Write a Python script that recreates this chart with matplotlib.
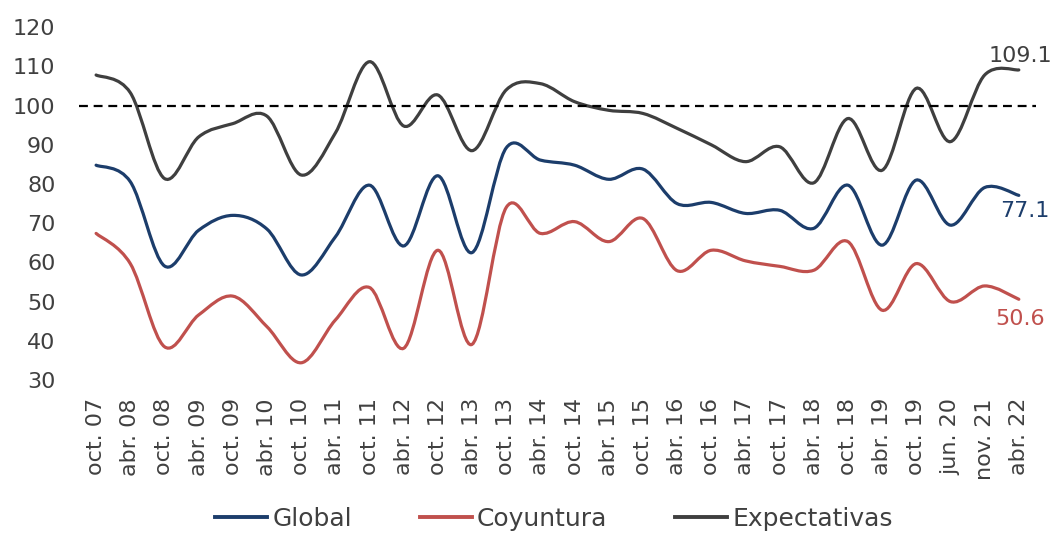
import numpy as np
import matplotlib
matplotlib.use("Agg")
from matplotlib import pyplot as plt
from matplotlib.path import Path
from matplotlib.patches import PathPatch
from matplotlib.lines import Line2D

periods = ["oct. 07", "abr. 08", "oct. 08", "abr. 09", "oct. 09", "abr. 10",
           "oct. 10", "abr. 11", "oct. 11", "abr. 12", "oct. 12", "abr. 13",
           "oct. 13", "abr. 14", "oct. 14", "abr. 15", "oct. 15", "abr. 16",
           "oct. 16", "abr. 17", "oct. 17", "abr. 18", "oct. 18", "abr. 19",
           "oct. 19", "jun. 20", "nov. 21", "abr. 22"]

global_idx = [84.8, 80.6, 59.1, 68.2, 72.0, 68.5, 56.8, 66.5, 79.7, 64.2,
              82.1, 62.5, 89.2, 86.1, 84.8, 81.2, 83.8, 75.0, 75.3, 72.5,
              73.3, 68.7, 79.7, 64.4, 81.0, 69.5, 79.1, 77.1]

coyuntura = [67.4, 59.7, 38.5, 46.6, 51.4, 43.6, 34.4, 45.3, 53.6, 38.1,
             63.1, 39.1, 74.0, 67.4, 70.4, 65.3, 71.2, 57.9, 63.1, 60.4,
             59.0, 58.0, 65.3, 47.8, 59.7, 50.0, 54.0, 50.6]

expectativas = [107.8, 103.3, 81.4, 92.0, 95.4, 97.3, 82.3, 93.0, 111.2, 94.8,
                102.7, 88.5, 104.0, 105.6, 101.0, 98.8, 98.0, 94.2, 90.0, 85.7,
                89.5, 80.3, 96.7, 83.5, 104.4, 90.8, 107.8, 109.1]

series = [("Global", global_idx, "#1c3d6b"),
          ("Coyuntura", coyuntura, "#c0504d"),
          ("Expectativas", expectativas, "#3f3f3f")]

TEXT = "#404040"
plt.rcParams["font.family"] = ["DejaVu Sans"]


def smooth_path(xs, ys):
    # cubic bezier segments through every point (Catmull-Rom style handles)
    pts = np.column_stack([xs, ys]).astype(float)
    n = len(pts)
    verts = [pts[0]]
    codes = [Path.MOVETO]
    for i in range(n - 1):
        p0 = pts[max(i - 1, 0)]
        p1 = pts[i]
        p2 = pts[i + 1]
        p3 = pts[min(i + 2, n - 1)]
        c1 = p1 + (p2 - p0) / 6.0
        c2 = p2 - (p3 - p1) / 6.0
        verts += [c1, c2, p2]
        codes += [Path.CURVE4] * 3
    return Path(verts, codes)


fig = plt.figure(figsize=(10.55, 5.33), dpi=100)
ax = fig.add_axes([0.0749, 0.287, 0.907, 0.662])

x = np.arange(len(periods))
handles = []
for name, vals, color in series:
    ax.add_patch(PathPatch(smooth_path(x, vals), fill=False, edgecolor=color,
                           lw=2.3, capstyle="round", clip_on=False))
    handles.append(Line2D([], [], color=color, lw=2.8, label=name))

ax.axhline(100, color="black", lw=1.6, ls=(0, (4, 2.6)))

ax.set_xlim(-0.5, len(periods) - 0.5)
ax.set_ylim(30, 120)
ax.set_yticks(np.arange(30, 121, 10))
ax.set_xticks(x)
ax.set_xticklabels(periods, rotation=90)
ax.tick_params(length=0, colors=TEXT)
ax.tick_params(axis="y", labelsize=16, pad=17)
ax.tick_params(axis="x", labelsize=16, pad=13)
for s in ax.spines.values():
    s.set_visible(False)

# end-of-series values
last = len(periods) - 1
ax.annotate(f"{expectativas[-1]:.1f}", (last, expectativas[-1]), xytext=(1, 3),
            textcoords="offset points", ha="center", va="bottom",
            fontsize=16, color=series[2][2])
ax.annotate(f"{global_idx[-1]:.1f}", (last, global_idx[-1]), xytext=(4, -4),
            textcoords="offset points", ha="center", va="top",
            fontsize=16, color=series[0][2])
ax.annotate(f"{coyuntura[-1]:.1f}", (last, coyuntura[-1]), xytext=(1, -7),
            textcoords="offset points", ha="center", va="top",
            fontsize=16, color=series[1][2])

fig.legend(handles=handles, loc="center", bbox_to_anchor=(0.525, 0.026),
           ncol=3, frameon=False, fontsize=18, labelcolor=TEXT,
           handlelength=2.1, handletextpad=0.2, columnspacing=2.7)

fig.savefig("out.png", dpi=100)
